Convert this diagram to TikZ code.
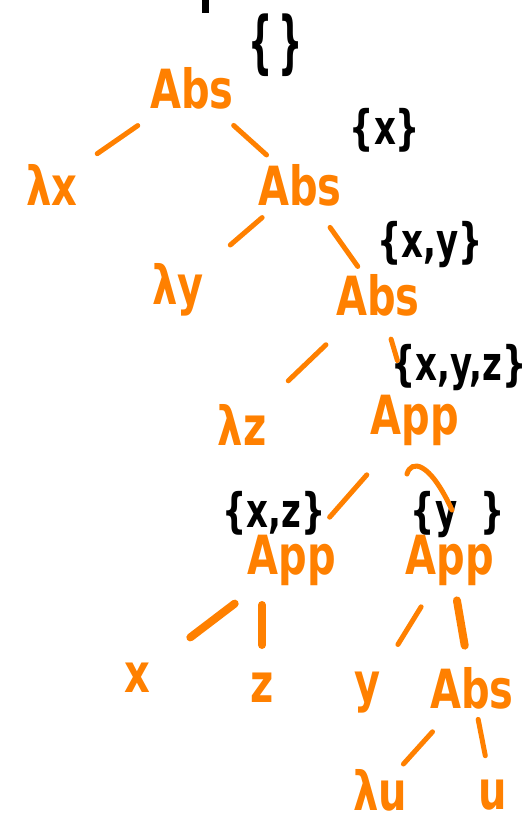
\documentclass[tikz,border=0pt]{standalone}
\usepackage{fontspec}
\newfontfamily\handfont{DejaVu Sans}
\definecolor{termorange}{RGB}{255,128,0}
\newcommand{\termfont}{\handfont\bfseries\fontsize{40}{40}\selectfont}
\newcommand{\fvfont}{\handfont\bfseries\fontsize{34}{34}\selectfont}
\newcommand{\tall}[2][1.35]{\scalebox{1}[#1]{#2}}
\tikzset{
  term/.style={text=termorange, font=\termfont, inner sep=0pt},
  fv/.style={text=black, font=\fvfont, inner sep=0pt},
  edge/.style={draw=termorange, line width=5pt, line cap=round},
  heavy/.style={edge, line width=8pt},
}
\begin{document}
\begin{tikzpicture}[x=1pt,y=-1pt]
\useasboundingbox (0,0) rectangle (525,825);

% term nodes of the syntax tree
\node[term] (root) at (192,88)  {\tall{Abs}};
\node[term] (lx)   at (52,185)  {\tall{λx}};
\node[term] (abs2) at (300,185) {\tall{Abs}};
\node[term] (ly)   at (178,290) {\tall{λy}};
\node[term] (abs3) at (378,295) {\tall{Abs}};
\node[term] (lz)   at (242,425) {\tall{λz}};
\node[term] (app1) at (415,420) {\tall{App}};
\node[term] (app2) at (292,560) {\tall{App}};
\node[term] (app3) at (450,560) {\tall{App}};
\node[term] (vx)   at (137,678) {\tall{x}};
\node[term] (vz)   at (262,688) {\tall{z}};
\node[term] (vy)   at (368,693) {\tall{y}};
\node[term] (abs4) at (472,688) {\tall{Abs}};
\node[term] (lu)   at (380,790) {\tall{λu}};
\node[term] (vu)   at (493,795) {\tall{u}};

% free-variable sets
\coordinate (top) at (205,0);
\coordinate (topend) at (205,13);
\draw[line width=7pt] (top) -- (topend);
\node[fv] (fv0) at (276,45)  {\tall[2.0]{\{\,\}}};
\node[fv] (fv1) at (385,130) {\tall[1.4]{\{x\}}};
\node[fv] (fv2) at (430,245) {\tall[1.4]{\{x,y\}}};
\node[fv] (fv4) at (274,513) {\tall[1.4]{\{x,z\}}};
\node[fv] (fv5) at (458,515) {\tall[1.4]{\{y\hspace{0.7em}\}}};

% tree edges, measured between node centres
\path[edge, shorten <=66pt, shorten >=55pt] (root.center) -- (lx.center);
\path[edge, shorten <=56pt, shorten >=45pt] (root.center) -- (abs2.center);
\path[edge, shorten <=50pt, shorten >=69pt] (abs2.center) -- (ly.center);
\path[edge, shorten <=52pt, shorten >=35pt] (abs2.center) -- (abs3.center);
\path[edge, shorten <=72pt, shorten >=64pt] (abs3.center) -- (lz.center);
\path[edge, shorten <=46pt, shorten >=62pt] (abs3.center) -- (app1.center);
\node[fv] (fv3) at (459,368) {\tall[1.4]{\{x,y,z\}}};
\path[edge, shorten <=73pt, shorten >=57pt] (app1.center) -- (app2.center);
% hooked stroke from the upper App down to the right App
\path[edge] ([shift={(-8,54)}]app1.center)
  .. controls ([shift={(-4,40)}]app1.center) and ([shift={(14,40)}]app1.center)
  .. ([shift={(2,-50)}]app3.center);
\path[heavy, shorten <=72pt, shorten >=67pt] (app2.center) -- (vx.center);
\path[heavy, shorten <=45pt, shorten >=43pt] (vz.center |- app2.center) -- (vz.center);
\path[edge, shorten <=55pt, shorten >=57pt] (app3.center) -- (vy.center);
\path[heavy, shorten <=41pt, shorten >=43pt] (app3.center) -- (abs4.center);
\path[edge, shorten <=59pt, shorten >=35pt] (abs4.center) -- (lu.center);
\path[edge, shorten <=32pt, shorten >=40pt] (abs4.center) -- (vu.center);
\end{tikzpicture}
\end{document}
